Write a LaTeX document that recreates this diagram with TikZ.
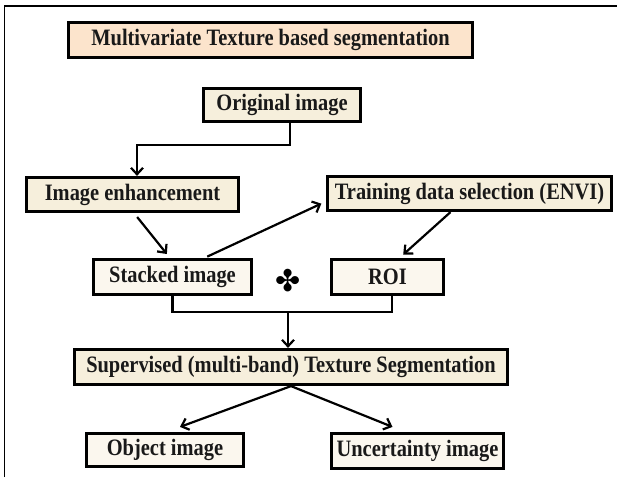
\documentclass[tikz,border=0pt]{standalone}
\usepackage{fontspec}
\setmainfont[FakeStretch=0.87]{Liberation Serif}
\newfontfamily\symbfont{DejaVu Sans}
\usepackage{tikz}
\usetikzlibrary{arrows.meta,
                calc,
                positioning}
\definecolor{peach}{HTML}{FCE4CC}
\definecolor{cream}{HTML}{F6EFDC}
\definecolor{paper}{HTML}{FBF7EE}
\tikzstyle{block} = [rectangle, draw=black, line width=3.2pt, fill=cream, inner sep=0pt, text=black!90, font=\fontsize{23.5}{26}\selectfont\bfseries]
\tikzstyle{arrow} = [line width=2.2pt, -{Straight Barb[length=6.5pt,width=12pt]}]
\tikzstyle{link} = [line width=2.2pt]

\begin{document}
\begin{tikzpicture}[x=1pt,y=-1pt]
\useasboundingbox (0,0) rectangle (617,477);
% frame
\draw[line width=1.8pt] (4.5,477) -- (4.5,6) -- (617,6);

% boxes
\node[block, fill=peach, minimum width=404pt, minimum height=35pt] (title) at (270.5,40) {Multivariate Texture based segmentation};
\node[block, minimum width=157pt, minimum height=33pt] (orig) at (282,105) {Original image};
\node[block, minimum width=212pt, minimum height=34pt] (enh) at (132.5,194.5) {Image enhancement};
\node[block, minimum width=284pt, minimum height=34pt] (train) at (469.5,193.5) {Training data selection (ENVI)};
\node[block, fill=paper, minimum width=158pt, minimum height=35pt] (stack) at (172.5,277) {Stacked image};
\node[block, fill=paper, minimum width=112pt, minimum height=35pt] (roi) at (387.5,277) {ROI};
\node[font=\symbfont\fontsize{30}{30}\selectfont] (plus) at (288,281) {✤};
\node[block, minimum width=433pt, minimum height=35pt] (sup) at (291,367) {Supervised (multi-band) Texture Segmentation};
\node[block, fill=paper, minimum width=157pt, minimum height=33pt] (obj) at (165,450) {Object image};
\node[block, fill=paper, minimum width=172pt, minimum height=35pt] (unc) at (417.5,451) {Uncertainty image};

% connectors
\coordinate (bend) at (137,145);
\draw[arrow] ([xshift=8pt]orig.south) |- (bend) -- (bend |- enh.north);
\draw[arrow, shorten <=5pt, shorten >=5pt] ([xshift=1.5pt]enh.south) -- ([xshift=-2.5pt]stack.north);
\draw[arrow, shorten <=3pt, shorten >=5pt] ([xshift=32pt]stack.north) -- ([yshift=-8pt]train.west);
\draw[arrow, shorten >=5pt] ([xshift=-19pt]train.south) -- ([xshift=12pt]roi.north);
\coordinate (join) at (288,312);
\draw[link] (stack.south) |- (join) -| ([xshift=4.5pt]roi.south);
\draw[arrow] (join) -- (join |- sup.north);
\draw[arrow] (sup.south) -- ([xshift=15pt,yshift=5pt]obj.north);
\draw[arrow] (sup.south) -- ([xshift=-25pt,yshift=5pt]unc.north);
\end{tikzpicture}
\end{document}
